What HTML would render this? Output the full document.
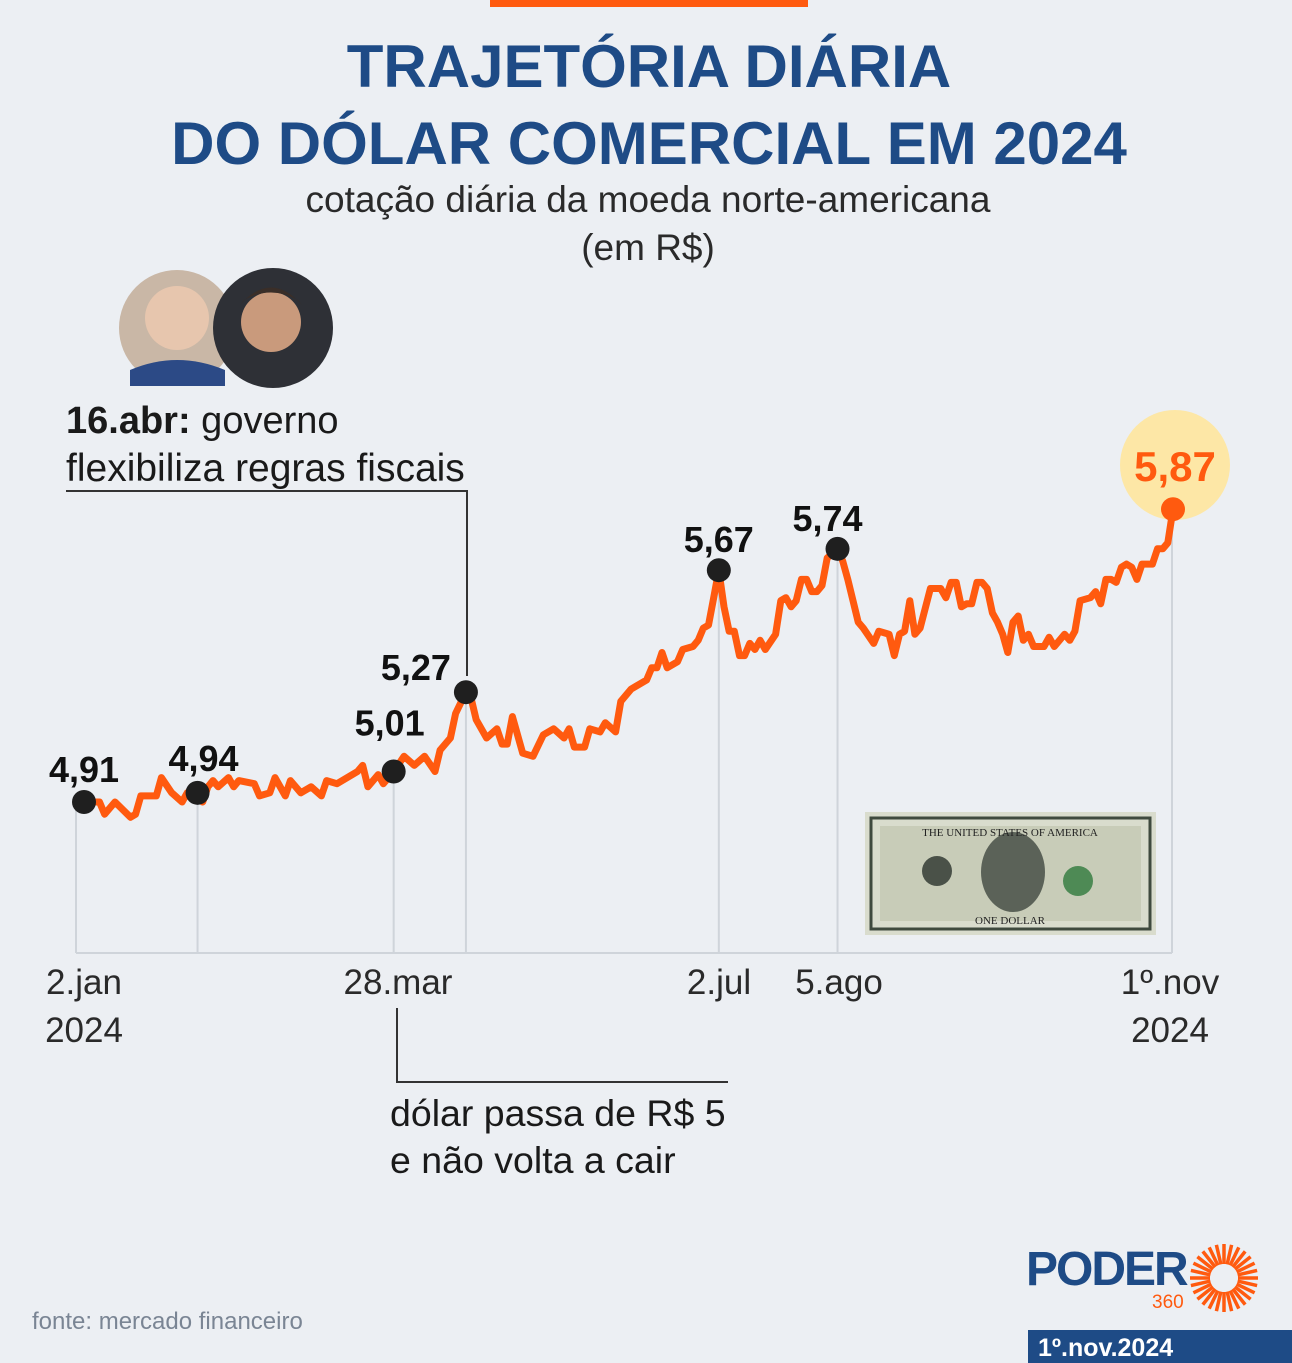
<!DOCTYPE html>
<html><head><meta charset="utf-8">
<style>
html,body{margin:0;padding:0;background:#eceff3;}
svg{display:block;font-family:"Liberation Sans",sans-serif;}
</style></head>
<body>
<svg id="chart" width="1292" height="1363" viewBox="0 0 1292 1363">
<rect x="0" y="0" width="1292" height="1363" fill="#eceff3"/>
<rect x="490" y="0" width="318" height="7" fill="#ff5a0f"/>
<text x="649" y="87" text-anchor="middle" font-size="60" font-weight="bold" fill="#1e4b86">TRAJETÓRIA DIÁRIA</text>
<text x="649" y="164" text-anchor="middle" font-size="60" font-weight="bold" fill="#1e4b86">DO DÓLAR COMERCIAL EM 2024</text>
<text x="648" y="212" text-anchor="middle" font-size="37" fill="#2a2a2a">cotação diária da moeda norte-americana</text>
<text x="648" y="260" text-anchor="middle" font-size="37" fill="#2a2a2a">(em R$)</text>

<g>
<circle cx="177" cy="328" r="58" fill="#c9b7a6"/>
<circle cx="177" cy="318" r="32" fill="#e7c6ae"/>
<path d="M130 370 Q177 350 225 370 L225 386 L130 386 Z" fill="#2c4a86"/>
<circle cx="273" cy="328" r="60" fill="#2e3036"/>
<circle cx="271" cy="322" r="30" fill="#c99a7c"/>
<path d="M240 305 Q271 270 302 305 L298 300 Q271 285 244 300Z" fill="#3a2e28"/>
</g>

<text x="66" y="433" font-size="38" fill="#1a1a1a"><tspan font-weight="bold">16.abr:</tspan> governo</text>
<text x="66" y="481" font-size="39" fill="#1a1a1a">flexibiliza regras fiscais</text>
<polyline points="66,491 467,491 467,676" fill="none" stroke="#333" stroke-width="2"/>

<g>
<rect x="865" y="812" width="291" height="123" fill="#d9dccd"/>
<rect x="871" y="818" width="279" height="111" fill="none" stroke="#3f4a3e" stroke-width="3"/>
<rect x="880" y="826" width="261" height="95" fill="#c8ccb8"/>
<ellipse cx="1013" cy="872" rx="32" ry="40" fill="#5b6258"/>
<circle cx="937" cy="871" r="15" fill="#4a5148"/>
<circle cx="1078" cy="881" r="15" fill="#4e8a55"/>
<text x="1010" y="836" text-anchor="middle" font-size="11" font-family="Liberation Serif" fill="#222">THE UNITED STATES OF AMERICA</text>
<text x="1010" y="924" text-anchor="middle" font-size="11" font-family="Liberation Serif" fill="#222">ONE DOLLAR</text>
</g>

<circle cx="1175" cy="465" r="55" fill="#fde7a6"/>

<g id="plot"></g>

<text x="84" y="994" text-anchor="middle" font-size="35" fill="#2a2a2a">2.jan</text>
<text x="84" y="1042" text-anchor="middle" font-size="35" fill="#2a2a2a">2024</text>
<text x="398" y="994" text-anchor="middle" font-size="35" fill="#2a2a2a">28.mar</text>
<text x="719" y="994" text-anchor="middle" font-size="35" fill="#2a2a2a">2.jul</text>
<text x="839" y="994" text-anchor="middle" font-size="35" fill="#2a2a2a">5.ago</text>
<text x="1170" y="994" text-anchor="middle" font-size="35" fill="#2a2a2a">1º.nov</text>
<text x="1170" y="1042" text-anchor="middle" font-size="35" fill="#2a2a2a">2024</text>

<polyline points="397,1008 397,1082 728,1082" fill="none" stroke="#333" stroke-width="2"/>
<text x="390" y="1126" font-size="37.5" fill="#1a1a1a">dólar passa de R$ 5</text>
<text x="390" y="1173" font-size="37.5" fill="#1a1a1a">e não volta a cair</text>

<text x="32" y="1329" font-size="24" fill="#7a8594">fonte: mercado financeiro</text>

<g>
<text x="1026" y="1285" font-size="48" font-weight="bold" fill="#1e4b86" letter-spacing="-2">PODER</text>
<text x="1152" y="1308" font-size="19" fill="#ff5a0f">360</text>
<g id="sun" transform="translate(1224,1278)"></g>
</g>
<rect x="1028" y="1330" width="264" height="33" fill="#1e4b86"/>
<text x="1038" y="1356" font-size="25" font-weight="bold" fill="#ffffff">1º.nov.2024</text>
</svg>
<script>
const days = [0,3,4,6,9,10,11,14,15,17,19,20,22,23,24,25,26,28,29,30,33,34,36,37,39,40,42,44,46,47,49,53,54,55,57,58,60,62,64,66,68,69,71,72,74,75,76,78,80,81,82,83,85,87,89,91,93,94,95,97,98,100,101,103,104,106,109,110,111,112,113,115,116,118,119,120,121,122,123,124,125,126,127,128,129,130,131,132,134,135,136,137,138,139,140,141,142,143,144,146,147,148,149,150,151,153,154,156,157,158,159,160,161,162,164,166,167,168,169,170,171,172,173,174,175,176,177,178,179,180,181,182,183,184,186,187,188,190,191,192,193,195,196,197,198,199,200,201,202,203,204,205,207,208,209,210,211];
const rates = [4.91,4.91,4.87,4.91,4.86,4.87,4.93,4.93,4.99,4.94,4.91,4.94,4.94,4.91,4.96,4.98,4.96,4.99,4.96,4.98,4.97,4.93,4.94,4.99,4.93,4.98,4.94,4.96,4.93,4.98,4.97,5.01,5.03,4.96,5.00,4.97,5.01,5.06,5.03,5.06,5.01,5.08,5.12,5.20,5.27,5.25,5.18,5.12,5.15,5.10,5.10,5.19,5.07,5.06,5.13,5.15,5.12,5.15,5.09,5.09,5.15,5.14,5.17,5.14,5.24,5.28,5.31,5.35,5.35,5.40,5.35,5.37,5.41,5.42,5.44,5.48,5.49,5.58,5.67,5.55,5.47,5.47,5.39,5.39,5.43,5.41,5.44,5.41,5.46,5.57,5.58,5.55,5.57,5.64,5.64,5.60,5.60,5.62,5.71,5.74,5.70,5.64,5.57,5.50,5.48,5.43,5.47,5.46,5.39,5.46,5.47,5.57,5.46,5.48,5.61,5.61,5.58,5.63,5.63,5.55,5.56,5.56,5.63,5.63,5.61,5.53,5.50,5.46,5.40,5.50,5.52,5.44,5.46,5.42,5.42,5.45,5.42,5.46,5.44,5.47,5.57,5.58,5.60,5.56,5.64,5.64,5.63,5.68,5.69,5.68,5.64,5.69,5.69,5.74,5.74,5.76,5.87];
const markDays = [0,22,60,74,123,146,211];
const markLabels = ["4,91","4,94","5,01","5,27","5,67","5,74","5,87"];

const NS="http://www.w3.org/2000/svg";
const plot=document.getElementById('plot');
function xs(d){return 84 + d*1089/211;}
function ys(v){return 802 - (v-4.91)*305;}
function rateAt(d){const i=days.indexOf(d);return rates[i];}

const axis=document.createElementNS(NS,'line');
axis.setAttribute('x1',76);axis.setAttribute('x2',1172);axis.setAttribute('y1',953);axis.setAttribute('y2',953);
axis.setAttribute('stroke','#cfd4da');axis.setAttribute('stroke-width','2');


plot.appendChild(axis);

markDays.forEach((d,k)=>{
  const g=document.createElementNS(NS,'line');
  const x = k===0?76:(k===markDays.length-1?1172:xs(d));
  g.setAttribute('x1',x);g.setAttribute('x2',x);g.setAttribute('y1',ys(rateAt(d)));g.setAttribute('y2',953);
  g.setAttribute('stroke','#cfd4da');g.setAttribute('stroke-width','2');
  
  
  plot.appendChild(g);
});

const line=document.createElementNS(NS,'polyline');
line.setAttribute('points',days.map((d,i)=>xs(d).toFixed(1)+','+ys(rates[i]).toFixed(1)).join(' '));
line.setAttribute('fill','none');line.setAttribute('stroke','#ff5a0f');line.setAttribute('stroke-width','7');
line.setAttribute('stroke-linejoin','round');line.setAttribute('stroke-linecap','round');


plot.appendChild(line);

const labelDx=[0,6,-4,-50,0,-10,2];
const labelDy=[-20,-22,-36,-12,-18,-18,-28];
markDays.forEach((d,k)=>{
  const last=k===markDays.length-1;
  const c=document.createElementNS(NS,'circle');
  c.setAttribute('cx',xs(d));c.setAttribute('cy',ys(rateAt(d)));c.setAttribute('r',12);
  c.setAttribute('fill',last?'#ff5a0f':'#1f1f1f');
  
  
  plot.appendChild(c);
  const t=document.createElementNS(NS,'text');
  t.setAttribute('x',xs(d)+labelDx[k]);t.setAttribute('y',ys(rateAt(d))+labelDy[k]);
  t.setAttribute('text-anchor','middle');t.setAttribute('font-size',last?'42':'36');
  t.setAttribute('font-weight','bold');t.setAttribute('fill',last?'#ff5a0f':'#111');
  t.textContent=markLabels[k];
  
  
  plot.appendChild(t);
});

const sun=document.getElementById('sun');
for(let a=0;a<28;a++){
  const ang=a*Math.PI*2/28;
  const r1=14, r2=34;
  const l=document.createElementNS(NS,'line');
  l.setAttribute('x1',(r1*Math.cos(ang)).toFixed(1));l.setAttribute('y1',(r1*Math.sin(ang)).toFixed(1));
  l.setAttribute('x2',(r2*Math.cos(ang)).toFixed(1));l.setAttribute('y2',(r2*Math.sin(ang)).toFixed(1));
  l.setAttribute('stroke','#ff5a0f');l.setAttribute('stroke-width','3.5');
  
  
  sun.appendChild(l);
}
</script>
</body></html>
